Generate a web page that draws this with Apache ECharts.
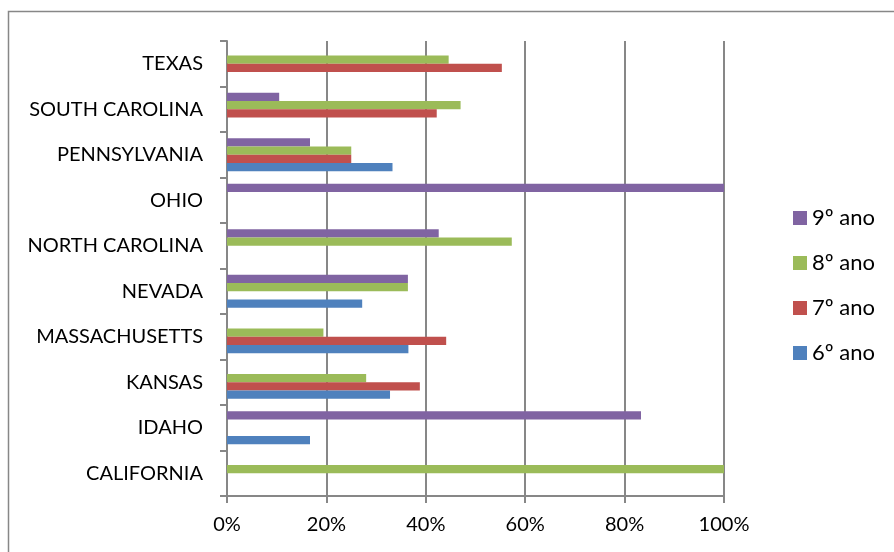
<!DOCTYPE html>
<html>
<head>
<meta charset="utf-8">
<script src="https://cdn.jsdelivr.net/npm/echarts@6/dist/echarts.min.js"></script>
<style>
html,body{margin:0;padding:0;background:#fff;}
#chart{width:894px;height:552px;}
</style>
</head>
<body>
<div id="chart"></div>
<script>
const categories = ['CALIFORNIA','IDAHO','KANSAS','MASSACHUSETTS','NEVADA','NORTH CAROLINA','OHIO','PENNSYLVANIA','SOUTH CAROLINA','TEXAS'];
const ano6 = [null, 16.7, 32.8, 36.5, 27.2, null, null, 33.3, null, null];
const ano7 = [null, null, 38.8, 44.1, null, null, null, 25.0, 42.2, 55.3];
const ano8 = [100, null, 28.0, 19.4, 36.4, 57.3, null, 25.0, 47.0, 44.6];
const ano9 = [null, 83.3, null, null, 36.4, 42.6, 100, 16.7, 10.5, null];
const xTicks = [0, 20, 40, 60, 80, 100];

const gray = '#878787';
const font = 'Lato, sans-serif';
const fs = 20;
const chart = echarts.init(document.getElementById('chart'));

function mk(name, data, color) {
  return {
    name: name, type: 'bar', data: data,
    barGap: '0%', barCategoryGap: '27%',
    itemStyle: { color: color },
    silent: true, animation: false
  };
}

chart.setOption({
  animation: false,
  graphic: [{
    type: 'rect', shape: { x: 8.5, y: 11.5, width: 1000, height: 1000 },
    style: { fill: 'none', stroke: gray, lineWidth: 1.5 }, silent: true
  }],
  grid: { left: 227, right: 170, top: 41, bottom: 56, containLabel: false },
  legend: {
    orient: 'vertical', left: 793, top: 207, padding: 0,
    itemWidth: 14, itemHeight: 14, itemGap: 23,
    icon: 'rect',
    data: ['9º ano', '8º ano', '7º ano', '6º ano'],
    textStyle: { fontFamily: font, fontSize: 22, color: '#000', lineHeight: 21, padding: [0, 0, 0, 0] },
    selectedMode: false
  },
  xAxis: {
    type: 'value', min: xTicks[0], max: xTicks[xTicks.length - 1], interval: 20,
    axisLine: { show: true, lineStyle: { color: gray, width: 2 } },
    axisTick: { show: true, length: 7, lineStyle: { color: gray, width: 2 } },
    splitLine: { show: true, lineStyle: { color: gray, width: 2 } },
    axisLabel: { formatter: v => v + '%', fontFamily: font, fontSize: fs, color: '#000', margin: 19 }
  },
  yAxis: {
    type: 'category', data: categories,
    axisLine: { show: true, lineStyle: { color: gray, width: 2 } },
    axisTick: { show: true, length: 7, lineStyle: { color: gray, width: 2 } },
    axisLabel: { fontFamily: font, fontSize: fs, color: '#000', margin: 24 }
  },
  series: [
    mk('9º ano', ano9, '#8064A2'),
    mk('8º ano', ano8, '#9BBB59'),
    mk('7º ano', ano7, '#C0504D'),
    mk('6º ano', ano6, '#4F81BD')
  ]
});
</script>
</body>
</html>
